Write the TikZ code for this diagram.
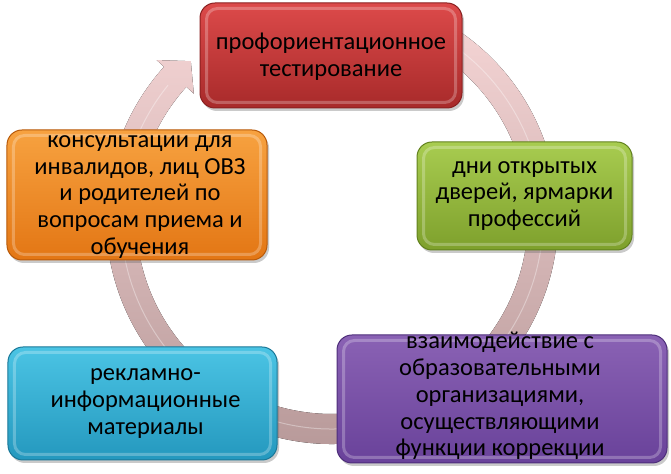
\documentclass[tikz,border=0pt]{standalone}
\usepackage{fontspec}
\setmainfont{Carlito}
\usetikzlibrary{shadows,calc}
\definecolor{redT}{HTML}{DC4A4A}\definecolor{redB}{HTML}{A82A2A}\definecolor{redD}{HTML}{8A2020}
\definecolor{orT}{HTML}{F7A240}\definecolor{orB}{HTML}{E37614}\definecolor{orD}{HTML}{B85A0A}
\definecolor{grT}{HTML}{A8CC50}\definecolor{grB}{HTML}{7EA02C}\definecolor{grD}{HTML}{62821E}
\definecolor{cyT}{HTML}{4BC4E4}\definecolor{cyB}{HTML}{2498BE}\definecolor{cyD}{HTML}{1A7898}
\definecolor{puT}{HTML}{8A62B4}\definecolor{puB}{HTML}{69429A}\definecolor{puD}{HTML}{4E2E7A}
\definecolor{ringT}{HTML}{F4D4D4}\definecolor{ringB}{HTML}{B49696}
\tikzset{
  box/.style n args={3}{draw=#3, line width=1bp, rounded corners=15bp,
    top color=#1, bottom color=#2, inner sep=0pt,
    drop shadow={shadow xshift=2bp, shadow yshift=-3bp, opacity=.35, fill=black!60}},
  bevel/.style={draw=white, opacity=.25, line width=3bp, rounded corners=11bp},
  boxtext/.style={align=center, text=black, font=\fontsize{24.5bp}{26.8bp}\selectfont, inner sep=0pt},
}
\begin{document}
\begin{tikzpicture}[x=1bp,y=1bp]
\useasboundingbox (0,0) rectangle (671,474);
% ring arrow
\begin{scope}[shift={(332,256)}]
  \fill[top color=ringT, bottom color=ringB]
    (60:226) arc[start angle=60, end angle=-222, radius=226]
    -- (138:236) -- (132:211) -- (138:186) -- (138:196)
    arc[start angle=-222, end angle=60, radius=196] -- cycle;
  \draw[white, opacity=.35, line width=1bp] (60:211) arc[start angle=60, end angle=-219, radius=211];
\end{scope}
% boxes
\node[box={redT}{redB}{redD}, minimum width=262bp, minimum height=105bp] (test) at (331,418.5) {};
\node[box={orT}{orB}{orD}, minimum width=260bp, minimum height=130bp] (cons) at (137,279) {};
\node[box={grT}{grB}{grD}, minimum width=215bp, minimum height=108bp] (days) at (524.5,278) {};
\node[box={cyT}{cyB}{cyD}, minimum width=269bp, minimum height=113bp] (adv) at (142.5,70.5) {};
\node[box={puT}{puB}{puD}, minimum width=330bp, minimum height=128bp] (inter) at (502,75) {};
\foreach \b in {test,cons,days,adv,inter}{
  \draw[bevel] ([shift={(7,-6)}]\b.north west) rectangle ([shift={(-7,6)}]\b.south east);
}
% texts
\node[boxtext] (test-t) at ([yshift=-1]test.center) {профориентационное\\тестирование};
\node[boxtext] (cons-t) at ([xshift=3,yshift=-2]cons.center) {консультации для\\инвалидов, лиц ОВЗ\\и родителей по\\вопросам приема и\\обучения};
\node[boxtext] (days-t) at (days.center) {дни открытых\\дверей, ярмарки\\профессий};
\node[boxtext] (adv-t) at ([xshift=3]adv.center) {рекламно-\\информационные\\материалы};
\node[boxtext] (inter-t) at ([xshift=-2,yshift=3]inter.center) {взаимодействие с\\образовательными\\организациями,\\осуществляющими\\функции коррекции};
\end{tikzpicture}
\end{document}
